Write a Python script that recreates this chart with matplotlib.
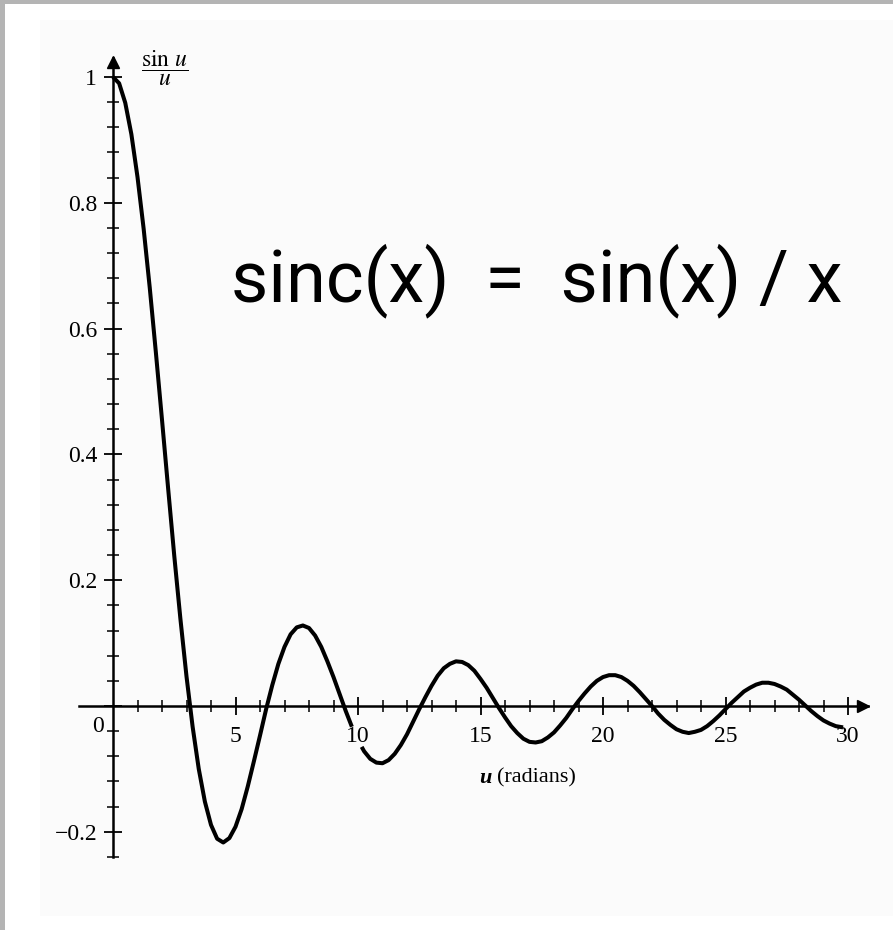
#!/usr/bin/env python3
"""Scanned-textbook style plot of sin(u)/u with a big sinc(x) caption."""

import matplotlib.pyplot as plt
from matplotlib.patches import Rectangle

# curve; the printed trace has a small break near u = 10
u_left = [0.0, 0.25, 0.5, 0.75, 1.0, 1.25, 1.5, 1.75, 2.0, 2.25, 2.5, 2.75,
          3.0, 3.25, 3.5, 3.75, 4.0, 4.25, 4.5, 4.75, 5.0, 5.25, 5.5, 5.75,
          6.0, 6.25, 6.5, 6.75, 7.0, 7.25, 7.5, 7.75, 8.0, 8.25, 8.5, 8.75,
          9.0, 9.25, 9.5, 9.75]
sinc_left = [1.000, 0.990, 0.959, 0.909, 0.841, 0.759, 0.665, 0.562, 0.455, 0.346, 0.239, 0.139,
             0.047, -0.033, -0.100, -0.152, -0.189, -0.211, -0.217, -0.210, -0.192, -0.164, -0.128, -0.088,
             -0.047, -0.005, 0.033, 0.067, 0.094, 0.114, 0.125, 0.128, 0.124, 0.112, 0.094, 0.071,
             0.046, 0.019, -0.008, -0.033]
u_right = [10.15, 10.25, 10.5, 10.75, 11.0, 11.25, 11.5, 11.75, 12.0, 12.25, 12.5, 12.75,
           13.0, 13.25, 13.5, 13.75, 14.0, 14.25, 14.5, 14.75, 15.0, 15.25, 15.5, 15.75,
           16.0, 16.25, 16.5, 16.75, 17.0, 17.25, 17.5, 17.75, 18.0, 18.25, 18.5, 18.75,
           19.0, 19.25, 19.5, 19.75, 20.0, 20.25, 20.5, 20.75, 21.0, 21.25, 21.5, 21.75,
           22.0, 22.25, 22.5, 22.75, 23.0, 23.25, 23.5, 23.75, 24.0, 24.25, 24.5, 24.75,
           25.0, 25.25, 25.5, 25.75, 26.0, 26.25, 26.5, 26.75, 27.0, 27.25, 27.5, 27.75,
           28.0, 28.25, 28.5, 28.75, 29.0, 29.25, 29.5, 29.8]
sinc_right = [-0.065, -0.072, -0.084, -0.090, -0.091, -0.086, -0.076, -0.062, -0.045, -0.025, -0.005, 0.014,
              0.032, 0.048, 0.060, 0.067, 0.071, 0.070, 0.065, 0.056, 0.043, 0.029, 0.013, -0.003,
              -0.018, -0.032, -0.043, -0.052, -0.057, -0.058, -0.056, -0.050, -0.042, -0.031, -0.019, -0.005,
              0.008, 0.020, 0.031, 0.040, 0.046, 0.049, 0.049, 0.046, 0.040, 0.032, 0.022, 0.011,
              0.000, -0.012, -0.022, -0.030, -0.037, -0.041, -0.043, -0.041, -0.038, -0.032, -0.024, -0.015,
              -0.005, 0.005, 0.014, 0.023, 0.029, 0.034, 0.037, 0.037, 0.035, 0.031, 0.026, 0.018,
              0.010, 0.001, -0.008, -0.016, -0.023, -0.028, -0.032, -0.034]

x_major = [5, 10, 15, 20, 25, 30]
x_labels = ["5", "10", "15", "20", "25", "30"]
x_minor = list(range(1, 31))
y_major = [-0.2, 0.0, 0.2, 0.4, 0.6, 0.8, 1.0]
y_labels = ["\u22120.2", "", "0.2", "0.4", "0.6", "0.8", "1"]
y_minor = [-0.24, -0.16, -0.12, -0.08, -0.04, 0.04, 0.08, 0.12, 0.16, 0.24, 0.28, 0.32, 0.36,
           0.44, 0.48, 0.52, 0.56, 0.64, 0.68, 0.72, 0.76, 0.84, 0.88, 0.92, 0.96]

W, H = 893, 930
plt.rcParams["mathtext.fontset"] = "stix"
serif = ["Liberation Serif", "DejaVu Serif"]

fig = plt.figure(figsize=(W / 100, H / 100), dpi=100, facecolor="white")
# scan look: faint paper area and grey frame strips, kept behind the axes
fig.patches.append(Rectangle((40 / W, 14 / H), 1, (H - 34) / H, transform=fig.transFigure,
                             facecolor="#fbfbfb", edgecolor="none", zorder=-10))
fig.patches.append(Rectangle((0, 1 - 4 / H), 1, 4 / H, transform=fig.transFigure,
                             facecolor="#b4b4b4", edgecolor="none", zorder=-10))
fig.patches.append(Rectangle((0, 0), 5 / W, 1, transform=fig.transFigure,
                             facecolor="#b4b4b4", edgecolor="none", zorder=-10))

ax = fig.add_axes([64 / W, 35.3 / H, 808.5 / W, 880.6 / H])
ax.patch.set_alpha(0)
ax.set_xlim(-2, 31)
ax.set_ylim(-0.3, 1.1)

for side in ("top", "right"):
    ax.spines[side].set_visible(False)
ax.spines["left"].set_position(("data", 0))
ax.spines["bottom"].set_position(("data", 0))
ax.spines["left"].set_bounds(-0.24, 1.03)
ax.spines["bottom"].set_bounds(-1.4, 30.8)
for side in ("left", "bottom"):
    ax.spines[side].set_linewidth(1.8)
ax.plot([0], [1.024], marker="^", ms=8, color="black", clip_on=False)
ax.plot([30.6], [0], marker=">", ms=8, color="black", clip_on=False)

ax.set_xticks(x_major, labels=x_labels)
ax.set_xticks(x_minor, minor=True)
ax.set_yticks(y_major, labels=y_labels)
ax.set_yticks(y_minor, minor=True)
ax.tick_params(which="major", direction="inout", length=13, width=1.3, labelsize=17, pad=8)
ax.tick_params(axis="y", which="major", pad=5)
ax.tick_params(which="minor", direction="inout", length=8, width=1.1)
for label in ax.get_xticklabels() + ax.get_yticklabels():
    label.set_family(serif)

ax.plot(u_left, sinc_left, color="black", lw=2.9, solid_joinstyle="round", solid_capstyle="butt")
ax.plot(u_right, sinc_right, color="black", lw=2.9, solid_joinstyle="round", solid_capstyle="butt")

ax.text(-0.6, -0.032, "0", fontsize=17, family=serif, ha="center", va="center")
ax.text(2.12, 1.014, r"$\dfrac{\sin\,u}{u}$", fontsize=17, ha="center", va="center")
ax.text(15.47, -0.1145, "u", fontsize=16, family=serif, style="italic", weight="bold",
        ha="right", va="center")
ax.text(15.67, -0.1145, "(radians)", fontsize=16, family=serif, ha="left", va="center")
ax.text(17.31, 0.677, "sinc(x)  =  sin(x) / x", fontsize=52,
        family=["Roboto", "Liberation Sans"], ha="center", va="center")

fig.savefig("out.png", dpi=100, facecolor=fig.get_facecolor())
